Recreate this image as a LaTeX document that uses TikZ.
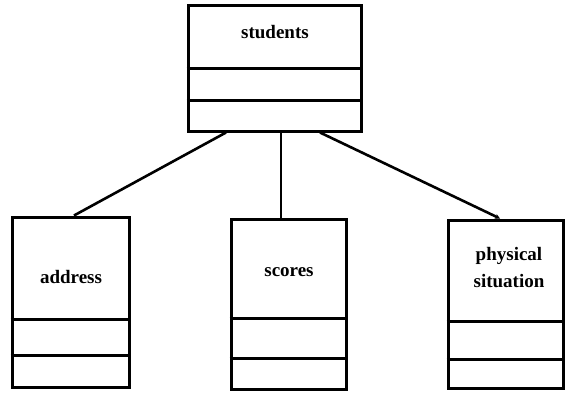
\documentclass[tikz,border=0pt]{standalone}
\usepackage{fontspec}
\setmainfont{Liberation Serif}
\usetikzlibrary{calc,arrows.meta}
\begin{document}
\begin{tikzpicture}[x=1pt,y=-1pt,
  box/.style={draw,line width=3pt,inner sep=0pt,fill=none},
  div/.style={line width=3pt},
  lbl/.style={font=\fontsize{19}{27}\selectfont\bfseries,align=center,inner sep=0pt},
  conn/.style={line width=2.6pt}]
\useasboundingbox (0,0) rectangle (572,392);
% boxes
\node[box,minimum width=173pt,minimum height=126pt] (students) at (274.5,68) {};
\node[box,minimum width=117pt,minimum height=170pt] (address) at (70.5,302) {};
\node[box,minimum width=115pt,minimum height=170pt] (scores) at (288.5,304) {};
\node[box,minimum width=115pt,minimum height=168pt] (physical) at (505.5,304) {};
% dividers
\draw[div] (students.west |- 0,68) -- (students.east |- 0,68);
\draw[div] (students.west |- 0,100) -- (students.east |- 0,100);
\draw[div] (address.west |- 0,319) -- (address.east |- 0,319);
\draw[div] (address.west |- 0,355) -- (address.east |- 0,355);
\draw[div] (scores.west |- 0,318) -- (scores.east |- 0,318);
\draw[div] (scores.west |- 0,358) -- (scores.east |- 0,358);
\draw[div] (physical.west |- 0,321) -- (physical.east |- 0,321);
\draw[div] (physical.west |- 0,359) -- (physical.east |- 0,359);
% labels
\node[lbl] (tstudents) at (275,32) {students};
\node[lbl] (taddress) at (71,277) {address};
\node[lbl] (tscores) at (289,272) {scores};
\node[lbl] (tphysical) at (509,268) {physical\\situation};
% connectors
\draw[conn] ($(students.south)+(-48.5,0)$) -- ($(address.north)+(3.5,0)$);
\draw[conn] ($(students.south)+(6.5,0)$) -- ($(scores.north)+(-7.5,0)$);
\draw[conn,-{Stealth[length=5pt,width=5pt]}] ($(students.south)+(45.5,0)$) -- ($(physical.north)+(-5.5,0)$);
\end{tikzpicture}
\end{document}
